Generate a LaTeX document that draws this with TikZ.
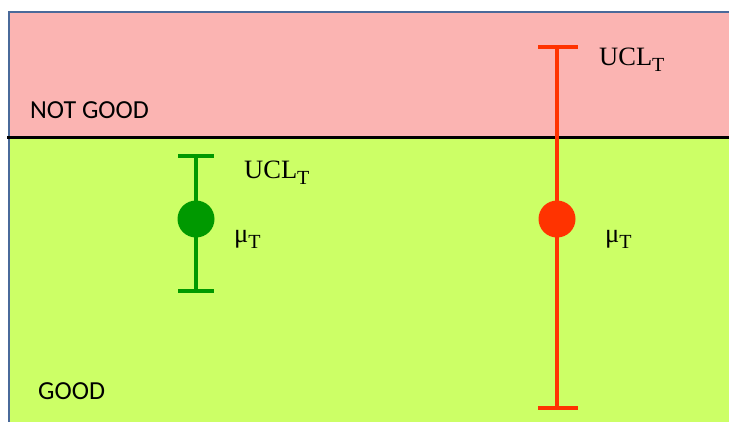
\documentclass[tikz,border=0pt]{standalone}
\usepackage{fontspec}
\setmainfont{Liberation Serif}
\newfontfamily\calfont{Carlito}
\definecolor{pinkbg}{HTML}{FBB4B2}
\definecolor{greenbg}{HTML}{CCFF66}
\definecolor{framec}{HTML}{4A6A9A}
\definecolor{goodbar}{HTML}{009900}
\definecolor{badbar}{HTML}{FF3300}
\newcommand{\lowsub}[1]{\raisebox{-6pt}{\fontsize{20}{20}\selectfont #1}}
\tikzset{
  zonelabel/.style={font=\calfont\fontsize{26}{26}\selectfont, anchor=base west, inner sep=0pt},
  statlabel/.style={font=\fontsize{26.5}{26.5}\selectfont, anchor=base west, inner sep=0pt},
  bar/.style={line width=3.6pt},
  dot/.style={circle, inner sep=0pt, minimum size=37pt}
}
\begin{document}
\begin{tikzpicture}[x=1pt,y=-1pt]
\useasboundingbox (0,0) rectangle (729,421);
\fill[white] (0,0) rectangle (729,421);
% zones
\fill[pinkbg] (8,12) rectangle (731,137);
\fill[greenbg] (8,137) rectangle (731,423);
\draw[framec, line width=2.5pt] (9,423) -- (9,12) -- (731,12);
\draw[black, line width=3pt] (7,137) -- (731,137);
% labels
\node[zonelabel] (ng) at (30,118) {NOT GOOD};
\node[zonelabel] (gd) at (38,399) {GOOD};
% green bar
\coordinate (gt) at (196,156);
\coordinate (gb) at (196,291);
\draw[bar, goodbar] (gt) -- (gb);
\draw[bar, goodbar] (178,156) -- (214,156);
\draw[bar, goodbar] (178,291) -- (214,291);
\node[dot, fill=goodbar] (gm) at (196,219) {};
\node[statlabel] (gucl) at (244,178) {UCL\lowsub{T}};
\node[statlabel] (gmu) at (234,242) {μ\lowsub{T}};
% red bar
\coordinate (rt) at (557,47);
\coordinate (rb) at (557,408);
\draw[bar, badbar] (rt) -- (rb);
\draw[bar, badbar] (538,47) -- (578,47);
\draw[bar, badbar] (538,408) -- (578,408);
\node[dot, fill=badbar] (rm) at (557,219) {};
\node[statlabel] (rucl) at (599,65) {UCL\lowsub{T}};
\node[statlabel] (rmu) at (605,242) {μ\lowsub{T}};
\end{tikzpicture}
\end{document}
